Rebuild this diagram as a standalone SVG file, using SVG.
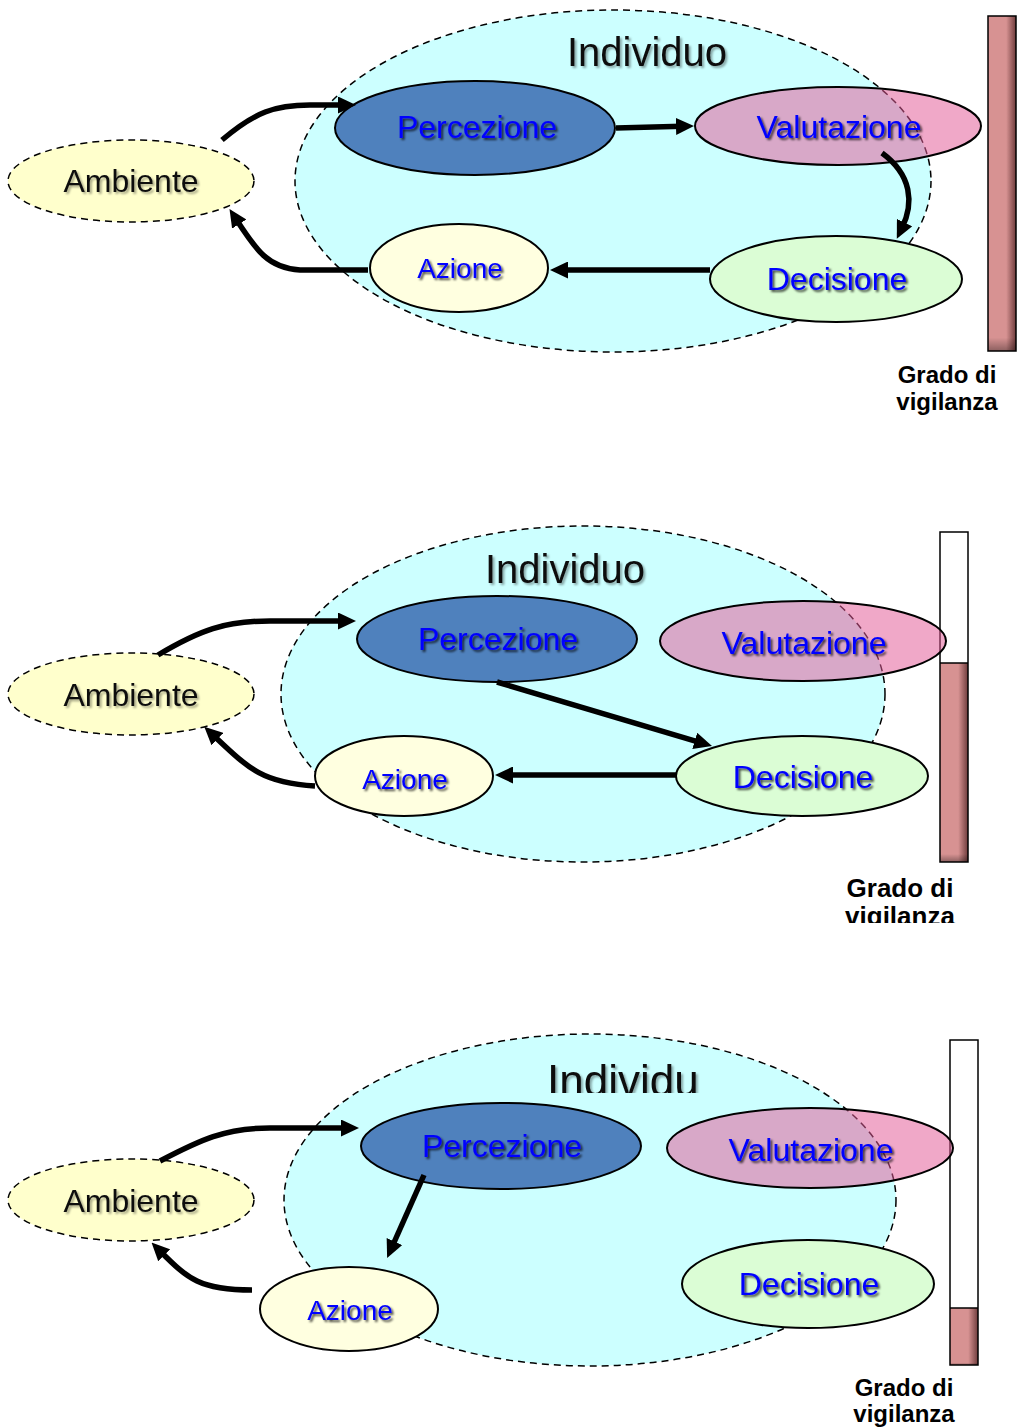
<svg xmlns="http://www.w3.org/2000/svg" width="1018" height="1427" viewBox="0 0 1018 1427">
<style>
  .indiv { fill: #ccffff; stroke: #000; stroke-width: 1.5; stroke-dasharray: 7 5; }
  .amb { fill: #ffffcc; stroke: #000; stroke-width: 1.5; stroke-dasharray: 7 5; }
  .perc { fill: #4f81bd; stroke: #000; stroke-width: 2; }
  .valu { fill: rgb(226,91,151); fill-opacity: 0.53; stroke: #000; stroke-width: 2; }
  .deci { fill: #dbfdd5; stroke: #000; stroke-width: 2; }
  .azio { fill: #ffffe0; stroke: #000; stroke-width: 2; }
  .lbl { font-family: "Liberation Sans", Arial, sans-serif; font-size: 32px; fill: #0000ff; text-anchor: middle; filter: url(#shadow); }
  .lbl-s { font-size: 28px; }
  .blk { fill: #111; filter: url(#shadowL); }
  .title { font-family: "Liberation Sans", Arial, sans-serif; font-size: 40px; fill: #111; text-anchor: middle; filter: url(#shadowL); }
  .grado { font-family: "Liberation Sans", Arial, sans-serif; font-weight: bold; font-size: 24px; fill: #000; text-anchor: middle; }
  .conn { fill: none; stroke: #000; stroke-width: 5.5; marker-end: url(#arr); }
</style>
<defs>
  <marker id="arr" markerUnits="userSpaceOnUse" viewBox="0 0 18 17" refX="6" refY="8.5" markerWidth="18" markerHeight="17" orient="auto">
    <path d="M0,0 L18,8.5 L0,17 z" fill="#000"/>
  </marker>
  <filter id="shadow" x="-10%" y="-20%" width="130%" height="160%">
    <feDropShadow dx="2" dy="2" stdDeviation="1" flood-color="#000" flood-opacity="0.7"/>
  </filter>
  <filter id="shadowL" x="-10%" y="-20%" width="130%" height="160%">
    <feDropShadow dx="2" dy="2" stdDeviation="1.2" flood-color="#000" flood-opacity="0.35"/>
  </filter>
  <linearGradient id="barH" x1="0" y1="0" x2="1" y2="0">
    <stop offset="0" stop-color="#d79292"/>
    <stop offset="0.65" stop-color="#d79292"/>
    <stop offset="1" stop-color="#6e3c3c"/>
  </linearGradient>
  <linearGradient id="barV" x1="0" y1="0" x2="0" y2="1">
    <stop offset="0" stop-color="#000" stop-opacity="0"/>
    <stop offset="0.96" stop-color="#000" stop-opacity="0"/>
    <stop offset="1" stop-color="#000" stop-opacity="0.35"/>
  </linearGradient>
  <clipPath id="clipTitle3">
    <rect x="500" y="1040" width="260" height="53"/>
  </clipPath>
</defs>

<!-- ================= PANEL 1 ================= -->
<g id="p1">
  <g id="p1-vigilanza">
    <rect x="988" y="16" width="28" height="335" fill="url(#barH)"/>
    <rect x="988" y="16" width="28" height="335" fill="url(#barV)"/>
    <rect x="988" y="16" width="28" height="335" fill="none" stroke="#000" stroke-width="1.5"/>
    <text class="grado" x="947" y="383">Grado di</text>
    <text class="grado" x="947" y="410">vigilanza</text>
  </g>
  <g id="p1-individuo">
    <ellipse class="indiv" cx="613" cy="181" rx="318" ry="171"/>
    <text class="title" x="647" y="66">Individuo</text>
  </g>
  <g id="p1-ambiente">
    <ellipse class="amb" cx="131" cy="181" rx="123" ry="41"/>
    <text class="lbl blk" x="131" y="192">Ambiente</text>
  </g>
  <g id="p1-percezione">
    <ellipse class="perc" cx="475" cy="128" rx="140" ry="47"/>
    <text class="lbl" x="477" y="138">Percezione</text>
  </g>
  <g id="p1-valutazione">
    <ellipse class="valu" cx="838" cy="126" rx="143" ry="39"/>
    <text class="lbl" x="839" y="138">Valutazione</text>
  </g>
  <g id="p1-decisione">
    <ellipse class="deci" cx="836" cy="279" rx="126" ry="43"/>
    <text class="lbl" x="837" y="290">Decisione</text>
  </g>
  <g id="p1-azione">
    <ellipse class="azio" cx="459" cy="268" rx="89" ry="44"/>
    <text class="lbl lbl-s" x="460" y="278">Azione</text>
  </g>
  <g id="p1-connectors">
    <path class="conn" d="M222,140 C255,112 275,105 310,105 L344,105"/>
    <path class="conn" d="M616,128 L682,126.3"/>
    <path class="conn" d="M882,153 C912,175 914,203 902,228"/>
    <path class="conn" d="M710,270 L562,270"/>
    <path class="conn" d="M368,270 L300,270 C268,268 256,250 236,219"/>
  </g>
</g>

<!-- ================= PANEL 2 ================= -->
<g id="p2">
  <g id="p2-vigilanza">
    <rect x="940" y="532" width="28" height="330" fill="#fff"/>
    <rect x="940" y="663" width="28" height="199" fill="url(#barH)"/>
    <rect x="940" y="663" width="28" height="199" fill="url(#barV)"/>
    <line x1="940" y1="663" x2="968" y2="663" stroke="#000" stroke-width="1.5"/>
    <rect x="940" y="532" width="28" height="330" fill="none" stroke="#000" stroke-width="1.5"/>
    <svg x="800" y="860" width="200" height="63" overflow="hidden">
      <text class="grado" x="100" y="37" style="font-size:26px">Grado di</text>
      <text class="grado" x="100" y="65" style="font-size:26px">vigilanza</text>
    </svg>
  </g>
  <g id="p2-individuo">
    <ellipse class="indiv" cx="583" cy="694" rx="302" ry="168"/>
    <text class="title" x="565" y="583">Individuo</text>
  </g>
  <g id="p2-ambiente">
    <ellipse class="amb" cx="131" cy="694" rx="123" ry="41"/>
    <text class="lbl blk" x="131" y="706">Ambiente</text>
  </g>
  <g id="p2-percezione">
    <ellipse class="perc" cx="497" cy="639" rx="140" ry="43"/>
    <text class="lbl" x="498" y="650">Percezione</text>
  </g>
  <g id="p2-valutazione">
    <ellipse class="valu" cx="803" cy="641" rx="143" ry="40"/>
    <text class="lbl" x="804" y="654">Valutazione</text>
  </g>
  <g id="p2-decisione">
    <ellipse class="deci" cx="802" cy="776" rx="126" ry="40"/>
    <text class="lbl" x="803" y="788">Decisione</text>
  </g>
  <g id="p2-azione">
    <ellipse class="azio" cx="404" cy="776" rx="89" ry="40"/>
    <text class="lbl lbl-s" x="405" y="789">Azione</text>
  </g>
  <g id="p2-connectors">
    <path class="conn" d="M158,655 C200,630 225,621 270,621 L344,621"/>
    <path class="conn" d="M497,682 L700.5,742.6"/>
    <path class="conn" d="M676,775 L507,775"/>
    <path class="conn" d="M315,786 C262,783 248,768 213,735"/>
  </g>
</g>

<!-- ================= PANEL 3 ================= -->
<g id="p3">
  <g id="p3-vigilanza">
    <rect x="950" y="1040" width="28" height="325" fill="#fff"/>
    <rect x="950" y="1308" width="28" height="57" fill="url(#barH)"/>
    <rect x="950" y="1308" width="28" height="57" fill="url(#barV)"/>
    <line x1="950" y1="1308" x2="978" y2="1308" stroke="#000" stroke-width="1.5"/>
    <rect x="950" y="1040" width="28" height="325" fill="none" stroke="#000" stroke-width="1.5"/>
    <text class="grado" x="904" y="1396">Grado di</text>
    <text class="grado" x="904" y="1422">vigilanza</text>
  </g>
  <g id="p3-individuo">
    <ellipse class="indiv" cx="590" cy="1200" rx="306" ry="166"/>
    <text class="title" x="547" y="1096" style="text-anchor:start;font-size:44px" clip-path="url(#clipTitle3)">Individu</text>
  </g>
  <g id="p3-ambiente">
    <ellipse class="amb" cx="131" cy="1200" rx="123" ry="41"/>
    <text class="lbl blk" x="131" y="1212">Ambiente</text>
  </g>
  <g id="p3-percezione">
    <ellipse class="perc" cx="501" cy="1146" rx="140" ry="43"/>
    <text class="lbl" x="502" y="1157">Percezione</text>
  </g>
  <g id="p3-valutazione">
    <ellipse class="valu" cx="810" cy="1148" rx="143" ry="40"/>
    <text class="lbl" x="811" y="1161">Valutazione</text>
  </g>
  <g id="p3-decisione">
    <ellipse class="deci" cx="808" cy="1284" rx="126" ry="44"/>
    <text class="lbl" x="809" y="1295">Decisione</text>
  </g>
  <g id="p3-azione">
    <ellipse class="azio" cx="349" cy="1309" rx="89" ry="42"/>
    <text class="lbl lbl-s" x="350" y="1320">Azione</text>
  </g>
  <g id="p3-connectors">
    <path class="conn" d="M160,1161 C200,1140 225,1128 270,1128 L347,1128"/>
    <path class="conn" d="M424,1175 L392,1247"/>
    <path class="conn" d="M252,1290 C200,1290 188,1279 160,1251"/>
  </g>
</g>
</svg>
